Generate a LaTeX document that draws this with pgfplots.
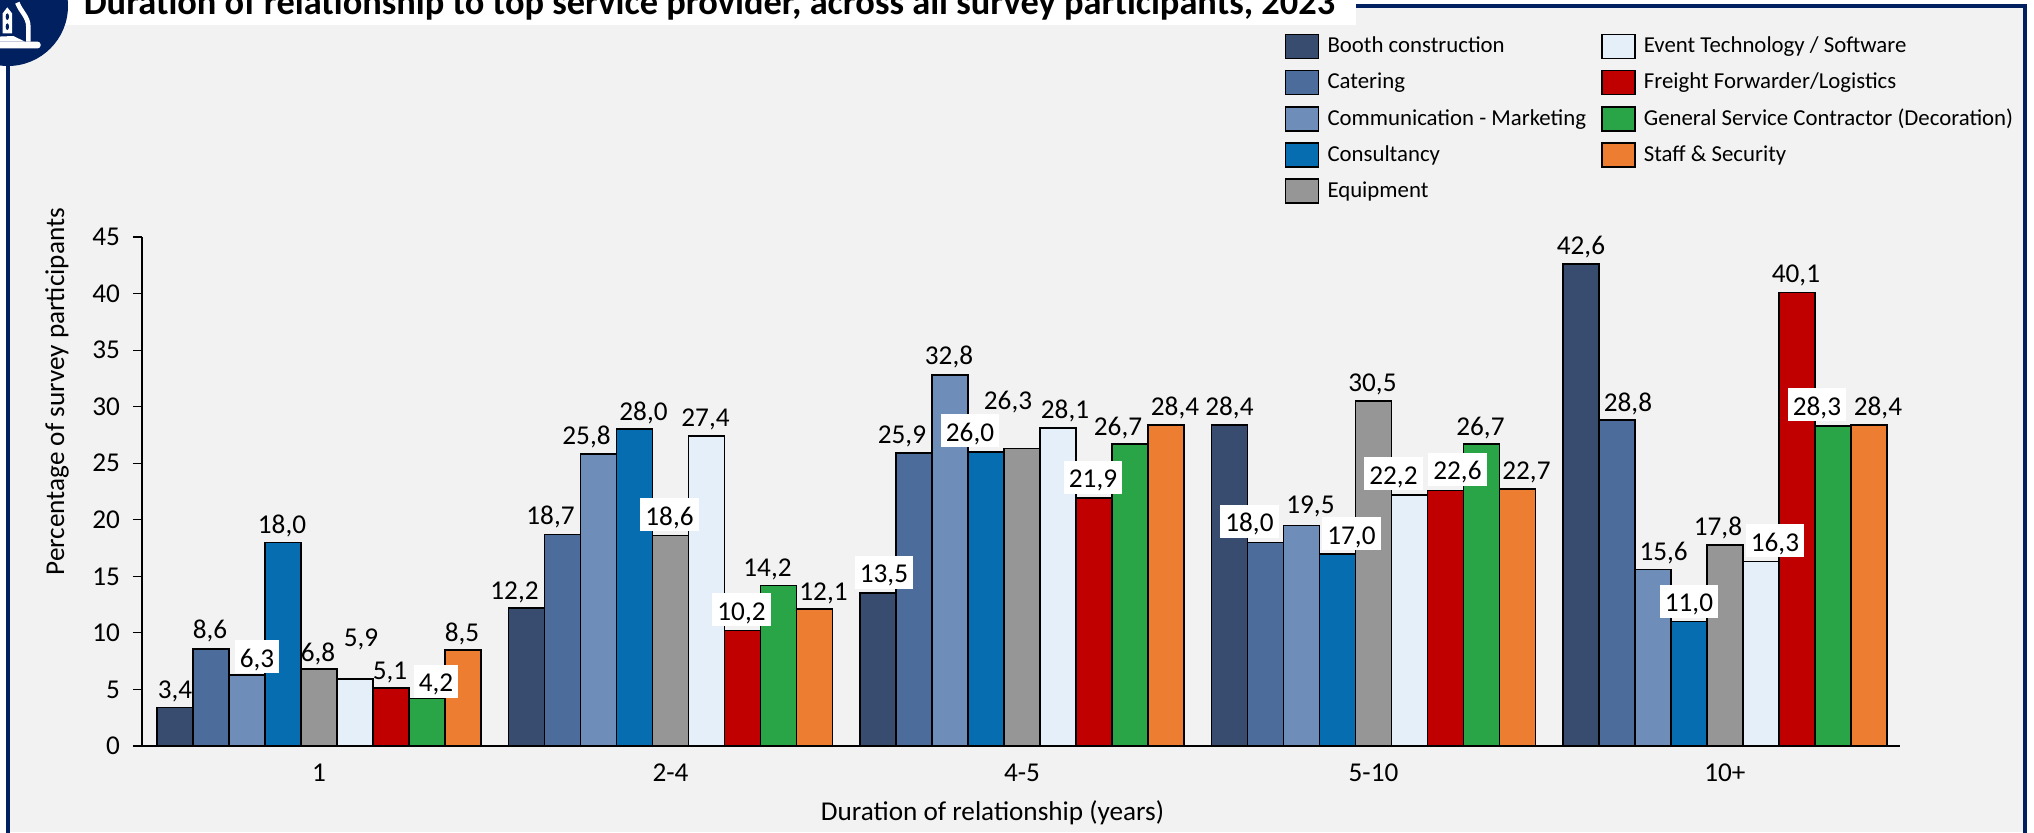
\documentclass[border=0pt]{standalone}
\usepackage{pgfplots}
\usepackage{pgfplotstable}
\usepackage{fontspec}
\setmainfont{Carlito}
\pgfplotsset{compat=1.18}
\definecolor{navy}{HTML}{002060}
\definecolor{bg}{HTML}{F2F2F2}
\definecolor{cA}{HTML}{374C6E}
\definecolor{cB}{HTML}{4C6C9B}
\definecolor{cC}{HTML}{6F8DB9}
\definecolor{cD}{HTML}{066EB0}
\definecolor{cE}{HTML}{969696}
\definecolor{cF}{HTML}{E4EFFA}
\definecolor{cG}{HTML}{C00000}
\definecolor{cH}{HTML}{29A548}
\definecolor{cI}{HTML}{ED7D31}
% x value, label offset dx (px), label height above bar dy (px), white box flag
\pgfplotstableread{
x y dx dy b
0 3.4 0 17.5 0
1 12.2 -12 17 0
2 13.5 6 21 1
3 28.4 0 18 0
4 42.6 0 18 0
}\tA
\pgfplotstableread{
x y dx dy b
0 8.6 -1 18.7 0
1 18.7 -12 18 0
2 25.9 -12 18 0
3 18.0 -16 21 1
4 28.8 11 17 0
}\tB
\pgfplotstableread{
x y dx dy b
0 6.3 10 18 1
1 25.8 -12 18 0
2 32.8 -1 19 0
3 19.5 9 20 0
4 15.6 10.6 17.6 0
}\tC
\pgfplotstableread{
x y dx dy b
0 18.0 -1 17 0
1 28.0 9 17 0
2 26.0 -16 21 1
3 17.0 14 20 1
4 11.0 0 20 1
}\tD
\pgfplotstableread{
x y dx dy b
0 6.8 -1 16 0
1 18.6 -1 21 1
2 26.3 -14 47 0
3 30.5 -1 18 0
4 17.8 -7 18 0
}\tE
\pgfplotstableread{
x y dx dy b
0 5.9 6 41 0
1 27.4 -1 18 0
2 28.1 7 18 0
3 22.2 -16 21 1
4 16.3 14 21 1
}\tF
\pgfplotstableread{
x y dx dy b
0 5.1 -1 17 0
1 10.2 -1 21 1
2 21.9 -1 21 1
3 22.6 12 21 1
4 40.1 -1 18 0
}\tG
\pgfplotstableread{
x y dx dy b
0 4.2 9 17.5 1
1 14.2 -11 17.4 0
2 26.7 -12 17 0
3 26.7 -1 17 0
4 28.3 -16 21 1
}\tH
\pgfplotstableread{
x y dx dy b
0 8.5 -1 17 0
1 12.1 9 17 0
2 28.4 9 18 0
3 22.7 9 18 0
4 28.4 9 18 0
}\tI
\newcommand{\bars}[4]{%
  \addplot[ybar,bar width=18pt,bar shift=#3*18pt,fill=#1,draw=black,line width=0.85pt]
    table[x=x,y=y]{#2};
  \addlegendentry{#4}}
\newcommand{\labs}[2]{%
  \addplot[forget plot,ybar,bar width=18pt,bar shift=#2*18pt,draw=none,fill=none,
    point meta=y,
    visualization depends on={\thisrow{dx}\as\lx},
    visualization depends on={\thisrow{dy}\as\ly},
    visualization depends on={\thisrow{b}\as\lb},
    nodes near coords={\pgfmathprintnumber[fixed,fixed zerofill,precision=1,use comma,assume math mode=true]{\pgfplotspointmeta}},
    every node near coord/.style={anchor=center,font=\fontsize{13.6}{14}\selectfont,text=black,
      fill=white,fill opacity=\lb,text opacity=1,inner xsep=2.5pt,inner ysep=0pt,
      minimum height=16.5pt,text height=10.4pt,text depth=0pt,
      xshift={(\lx+(#2)*36)*0.5pt},yshift={(\ly+2-2*\lb)*0.5pt}}]
    table[x=x,y=y]{#1};}
\begin{document}
\begin{tikzpicture}
\path[use as bounding box,clip] (0,0) rectangle (1017pt,416pt);
\fill[white] (0,0) rectangle (1017pt,416pt);
\fill[bg] (4pt,0) rectangle (1012.5pt,413pt);
\draw[navy,line width=2pt] (4pt,-2pt) -- (4pt,413pt) -- (1012.5pt,413pt) -- (1012.5pt,-2pt);
\begin{axis}[
  at={(71pt,43pt)},anchor=south west,
  scale only axis,width=879pt,height=254.5pt,
  xmin=-0.5036,xmax=4.498,ymin=0,ymax=45,
  axis x line=bottom,axis y line=left,
  axis line style={-,black,line width=0.7pt},
  xtick={0,1,2,3,4},xticklabels={1,2-4,4-5,5-10,10+},
  ytick={0,5,...,45},
  major x tick style={draw=none},
  major y tick style={black,line width=0.6pt},
  tick align=outside,major tick length=4.5pt,
  /pgf/number format/assume math mode=true,
  tick label style={font=\fontsize{13.6}{14}\selectfont},
  yticklabel style={xshift=-3pt},
  xticklabel style={yshift=-1pt},
  xlabel={Duration of relationship (years)},
  ylabel={Percentage of survey participants},
  label style={font=\fontsize{13.6}{14}\selectfont},
  xlabel style={at={(axis description cs:0.4838,0)},anchor=center,yshift=-33.5pt},
  ylabel style={at={(axis description cs:0,0.696)},anchor=center,yshift=42.5pt},
  clip=false,
  legend columns=5,transpose legend,
  legend cell align=left,
  legend style={at={(0.65,1.401)},anchor=north west,draw=none,fill=none,
    font=\fontsize{11.4}{13}\selectfont,inner sep=0pt,outer sep=0pt,
    /tikz/every even column/.append style={column sep=5.5pt},
    row sep=4.6pt},
  legend image code/.code={\draw[#1,line width=0.8pt] (0cm,-6pt) rectangle (16.5pt,6pt);\path[draw=none,fill=none] (0,0) -- (19pt,0);},
]
\bars{cA}{\tA}{-4}{Booth construction}
\bars{cB}{\tB}{-3}{Catering}
\bars{cC}{\tC}{-2}{Communication - Marketing}
\bars{cD}{\tD}{-1}{Consultancy}
\bars{cE}{\tE}{0}{Equipment}
\bars{cF}{\tF}{1}{Event Technology / Software}
\bars{cG}{\tG}{2}{Freight Forwarder/Logistics}
\bars{cH}{\tH}{3}{General Service Contractor (Decoration)}
\bars{cI}{\tI}{4}{Staff \& Security}
\labs{\tA}{-4}
\labs{\tB}{-3}
\labs{\tC}{-2}
\labs{\tD}{-1}
\labs{\tE}{0}
\labs{\tF}{1}
\labs{\tG}{2}
\labs{\tH}{3}
\labs{\tI}{4}
\end{axis}
\fill[white] (20pt,403.5pt) rectangle (678pt,416pt);
\node[anchor=base west,inner sep=0pt,font=\bfseries\fontsize{18.2}{20}\selectfont] at (41.7pt,408.5pt)
  {Duration of relationship to top service provider, across all survey participants, 2023};
\fill[navy] (4pt,413pt) circle (30pt);
\begin{scope}[x=0.1667pt,y=-0.1667pt,shift={(0pt,416pt)}]
  \fill[white,rounded corners=1.5pt] (-10,125) rectangle (122,145);
  \fill[white] (-10,125) -- (-10,110) -- (40,108) -- (75,125) -- cycle;
  \fill[white] (8,100) -- (8,40) -- (22,22) -- (36,40) -- (36,100) -- cycle;
  \fill[navy] (22,50) ellipse (5 and 10);
  \fill[navy] (22,80) ellipse (5 and 10);
  \draw[white,line width=2.3pt] (52,8) .. controls (62,35) and (85,50) .. (85,80) -- (85,125);
\end{scope}
\end{tikzpicture}
\end{document}
